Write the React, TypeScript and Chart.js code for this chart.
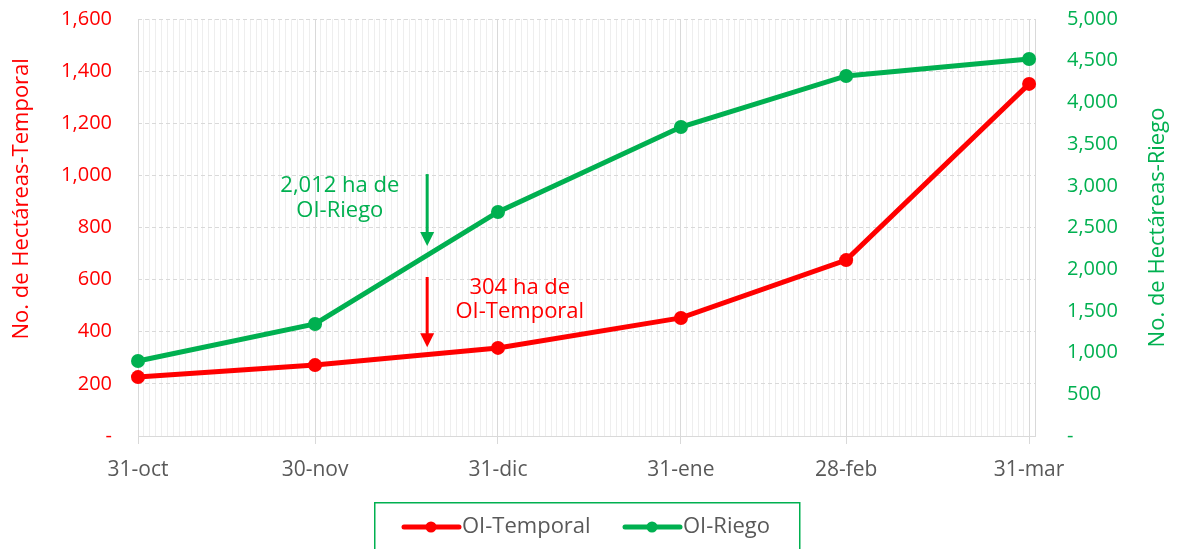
import React, { useEffect, useRef } from "react";
import { Chart, registerables } from "chart.js";

Chart.register(...registerables);

const dateLabels = ["31-oct", "30-nov", "31-dic", "31-ene", "28-feb", "31-mar"];
const dayOffsets = [0, 30, 61, 92, 120, 151];
const temporal = [226, 272, 338, 453, 675, 1351];
const riego = [899, 1343, 2686, 3705, 4317, 4520];
const leftTicks = [0, 200, 400, 600, 800, 1000, 1200, 1400, 1600];
const rightTicks = [0, 500, 1000, 1500, 2000, 2500, 3000, 3500, 4000, 4500, 5000];

const RED = "#ff0000";
const GREEN = "#00b050";
const FONT = "'Open Sans', sans-serif";

const fmt = (v: number) => (v === 0 ? "-" : v.toLocaleString("en-US"));

const overlayPlugin = {
  id: "overlay",
  afterDraw(chart: any) {
    const { ctx, chartArea, scales } = chart;
    const x = scales.x;
    const yl = scales.y;
    ctx.save();
    // axis titles
    ctx.font = `22px ${FONT}`;
    ctx.textAlign = "center";
    ctx.textBaseline = "middle";
    ctx.fillStyle = RED;
    ctx.save();
    ctx.translate(22, yl.getPixelForValue(910));
    ctx.rotate(-Math.PI / 2);
    ctx.fillText("No. de Hectáreas-Temporal", 0, 0);
    ctx.restore();
    ctx.fillStyle = GREEN;
    ctx.save();
    ctx.translate(1158, yl.getPixelForValue(800));
    ctx.rotate(-Math.PI / 2);
    ctx.fillText("No. de Hectáreas-Riego", 0, 0);
    ctx.restore();

    // annotations
    const drawArrow = (day: number, v1: number, v2: number, color: string) => {
      const px = x.getPixelForValue(day);
      const p1 = yl.getPixelForValue(v1);
      const p2 = yl.getPixelForValue(v2);
      ctx.strokeStyle = color;
      ctx.fillStyle = color;
      ctx.lineWidth = 3;
      ctx.beginPath();
      ctx.moveTo(px, p1);
      ctx.lineTo(px, p2 - 12);
      ctx.stroke();
      ctx.beginPath();
      ctx.moveTo(px - 7, p2 - 14);
      ctx.lineTo(px + 7, p2 - 14);
      ctx.lineTo(px, p2);
      ctx.closePath();
      ctx.fill();
    };
    drawArrow(49, 1005, 729, GREEN);
    drawArrow(49, 610, 341, RED);

    ctx.font = `22px ${FONT}`;
    ctx.textAlign = "center";
    ctx.textBaseline = "middle";
    ctx.fillStyle = GREEN;
    ctx.fillText("2,012 ha de", x.getPixelForValue(34.2), yl.getPixelForValue(959));
    ctx.fillText("OI-Riego", x.getPixelForValue(34.2), yl.getPixelForValue(863));
    ctx.fillStyle = RED;
    ctx.fillText("304 ha de", x.getPixelForValue(64.7), yl.getPixelForValue(568));
    ctx.fillText("OI-Temporal", x.getPixelForValue(64.7), yl.getPixelForValue(476));

    // legend
    const cx = (chartArea.left + chartArea.right) / 2;
    const bx = Math.round(cx - 213);
    ctx.strokeStyle = GREEN;
    ctx.lineWidth = 1.5;
    ctx.strokeRect(bx + 0.75, 502.75, 425, 60);
    const items = [
      { label: "OI-Temporal", color: RED, x0: bx + 30 },
      { label: "OI-Riego", color: GREEN, x0: bx + 251 },
    ];
    const ly = 527;
    for (const it of items) {
      ctx.strokeStyle = it.color;
      ctx.fillStyle = it.color;
      ctx.lineWidth = 5;
      ctx.lineCap = "round";
      ctx.beginPath();
      ctx.moveTo(it.x0, ly);
      ctx.lineTo(it.x0 + 55, ly);
      ctx.stroke();
      ctx.beginPath();
      ctx.arc(it.x0 + 27, ly, 5.5, 0, Math.PI * 2);
      ctx.fill();
      ctx.fillStyle = "#595959";
      ctx.textAlign = "left";
      ctx.font = `22px ${FONT}`;
      ctx.fillText(it.label, it.x0 + 58, ly);
    }
    ctx.restore();
  },
};

export default function App() {
  const canvasRef = useRef<HTMLCanvasElement | null>(null);

  useEffect(() => {
    if (!canvasRef.current) return;
    const chart = new Chart(canvasRef.current, {
      type: "line",
      data: {
        datasets: [
          {
            label: "OI-Riego",
            data: dayOffsets.map((d, i) => ({ x: d, y: riego[i] })),
            yAxisID: "y1",
            borderColor: GREEN,
            backgroundColor: GREEN,
            borderWidth: 5,
            pointRadius: 7,
            pointBorderWidth: 0,
            clip: false,
            order: 2,
          },
          {
            label: "OI-Temporal",
            data: dayOffsets.map((d, i) => ({ x: d, y: temporal[i] })),
            yAxisID: "y",
            borderColor: RED,
            backgroundColor: RED,
            borderWidth: 5,
            pointRadius: 7,
            pointBorderWidth: 0,
            clip: false,
            order: 1,
          },
        ],
      },
      options: {
        animation: false,
        responsive: true,
        maintainAspectRatio: false,
        layout: { padding: { top: 19, left: 0, right: 0, bottom: 0 } },
        plugins: { legend: { display: false }, tooltip: { enabled: false } },
        scales: {
          x: {
            type: "linear",
            min: 0,
            max: 152,
            afterBuildTicks: (scale: any) => {
              const t: any[] = [];
              for (let d = dayOffsets[0]; d <= dayOffsets[dayOffsets.length - 1]; d++) t.push({ value: d });
              scale.ticks = t;
            },
            afterFit: (scale: any) => {
              scale.height = 113;
              scale.paddingLeft = 0;
              scale.paddingRight = 0;
            },
            ticks: {
              autoSkip: false,
              maxRotation: 0,
              padding: 13,
              color: "#595959",
              font: { family: FONT, size: 21 },
              callback: (v: any) => {
                const i = dayOffsets.indexOf(Number(v));
                return i >= 0 ? dateLabels[i] : "";
              },
            },
            grid: {
              tickLength: 8,
              color: (c: any) =>
                c.tick && dayOffsets.includes(c.tick.value) ? "#d9d9d9" : "#eeeeee",
              tickColor: (c: any) =>
                c.tick && dayOffsets.includes(c.tick.value) ? "#d9d9d9" : "rgba(0,0,0,0)",
            },
            border: { display: true, color: "#d9d9d9" },
          },
          y: {
            position: "left",
            min: 0,
            max: 1600,
            afterBuildTicks: (scale: any) => {
              scale.ticks = leftTicks.map((v) => ({ value: v }));
            },
            afterFit: (scale: any) => {
              scale.width = 138;
              scale.paddingTop = 0;
              scale.paddingBottom = 0;
            },
            ticks: {
              padding: 26,
              color: RED,
              font: { family: FONT, size: 20 },
              callback: (v: any) => fmt(Number(v)),
            },
            grid: { drawTicks: false, color: "#d9d9d9" },
            border: { display: false, dash: [4, 3] },
          },
          y1: {
            position: "right",
            min: 0,
            max: 5000,
            afterBuildTicks: (scale: any) => {
              scale.ticks = rightTicks.map((v) => ({ value: v }));
            },
            afterFit: (scale: any) => {
              scale.width = 145;
              scale.paddingTop = 0;
              scale.paddingBottom = 0;
            },
            ticks: {
              padding: 32,
              color: GREEN,
              font: { family: FONT, size: 20 },
              callback: (v: any) => fmt(Number(v)),
            },
            grid: { drawOnChartArea: false, drawTicks: false },
            border: { display: true, color: "#d9d9d9" },
          },
        },
      },
      plugins: [overlayPlugin],
    } as any);
    return () => chart.destroy();
  }, []);

  return (
    <div style={{ position: "absolute", left: 0, top: 0, width: 1180, height: 549, background: "#fff" }}>
      <canvas ref={canvasRef} />
    </div>
  );
}
